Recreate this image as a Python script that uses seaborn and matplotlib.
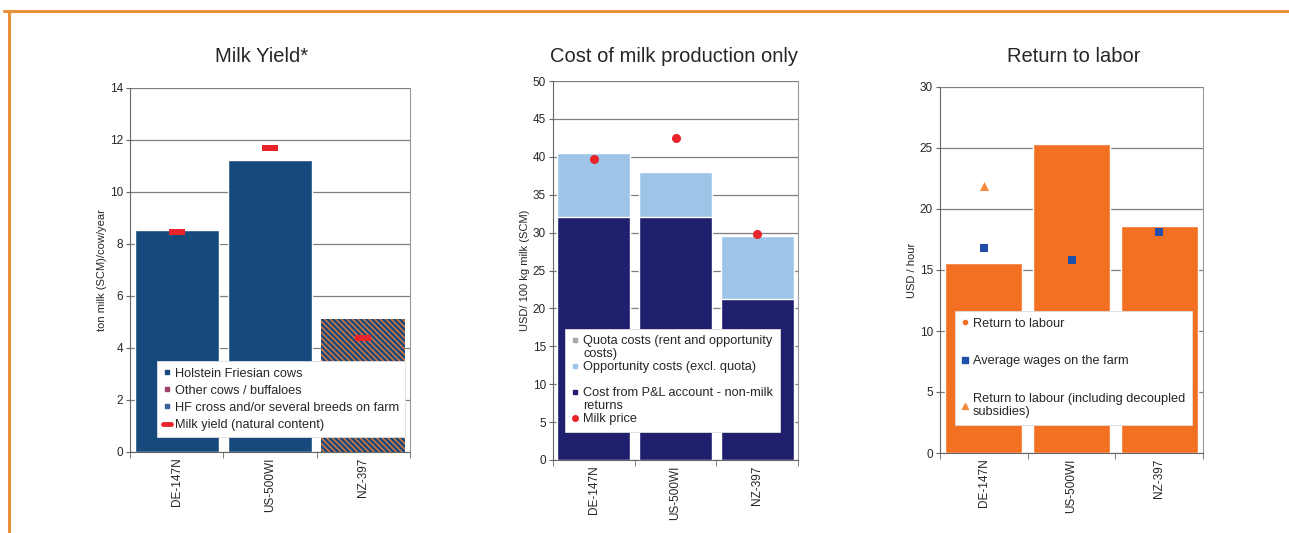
import numpy as np
import pandas as pd
import matplotlib
matplotlib.use("Agg")
import matplotlib.pyplot as plt
from matplotlib.lines import Line2D
import seaborn as sns

# data
farms = ["DE-147N", "US-500WI", "NZ-397"]

yield_ton = [8.55, 11.25, 5.1]
yield_natural = [8.45, 11.7, 4.4]

cost_pl = [32.0, 32.0, 21.3]
cost_total = [40.5, 38.0, 29.6]
milk_price = [39.7, 42.5, 29.8]

return_labour = [15.6, 25.3, 18.6]
avg_wages = [16.8, 15.8, 18.1]
return_decoupled = [21.9, np.nan, np.nan]

# colours
BLUE1 = "#174a7c"
NAVY = "#1f1f6e"
LIGHTBLUE = "#9ec5e8"
ORANGE = "#f36f21"
RED = "#e8232a"
SQ_BLUE = "#1f4fa8"
GRID = "#7f7f7f"

sns.set_style("white")
plt.rcParams["font.family"] = ["Liberation Sans", "DejaVu Sans"]
plt.rcParams["hatch.color"] = "#d9783f"
plt.rcParams["hatch.linewidth"] = 1.1

fig = plt.figure(figsize=(12.89, 5.33), dpi=100)
W, H = 1289, 533


def px_axes(left, right, top, bottom):
    return fig.add_axes([left / W, 1 - bottom / H, (right - left) / W, (bottom - top) / H])


def style_axis(ax, ymax, step, ylabel, labelpad):
    ax.set_xlim(-0.5, 2.5)
    ax.set_ylim(0, ymax)
    ax.set_yticks(np.arange(0, ymax + step / 2, step))
    ax.yaxis.grid(True, color=GRID, linewidth=0.9)
    ax.set_axisbelow(True)
    for s in ["left", "bottom"]:
        ax.spines[s].set_color("#666666")
    ax.spines["right"].set_color("#999999")
    ax.spines["top"].set_visible(False)
    ax.tick_params(axis="y", direction="out", length=3, width=0.8, color="#666666",
                   labelsize=8.5, pad=2, left=True)
    ax.tick_params(axis="x", length=0, labelsize=8.5, pad=4, labelrotation=90)
    ax.set_xticks([-0.5, 0.5, 1.5, 2.5], minor=True)
    ax.tick_params(axis="x", which="minor", direction="out", length=4, color="#666666", bottom=True)
    ax.set_xlabel("")
    ax.set_ylabel(ylabel, fontsize=8, labelpad=labelpad)


def box_legend(ax, handles, labels, anchor, spacing):
    leg = ax.legend(handles, labels, loc="lower left", bbox_to_anchor=anchor,
                    fontsize=9.2, frameon=True, fancybox=False, framealpha=1,
                    edgecolor="#dddddd", borderpad=0.5, labelspacing=spacing,
                    handlelength=0.6, handletextpad=0.3, borderaxespad=0)
    leg.get_frame().set_linewidth(0.6)
    return leg


dash = [(-1, -0.32), (1, -0.32), (1, 0.32), (-1, 0.32), (-1, -0.32)]
blank = Line2D([], [], ls="")

# --- Milk yield ---
ax1 = px_axes(130, 410, 88, 452)
df1 = pd.DataFrame({"farm": farms, "yield": yield_ton, "natural": yield_natural})
sns.barplot(data=df1, x="farm", y="yield", color=BLUE1, width=0.9, saturation=1, ax=ax1)
nz = ax1.patches[2]
nz.set_hatch("\\" * 6)
nz.set_edgecolor("#d9783f")
nz.set_linewidth(0)
sns.stripplot(data=df1, x="farm", y="natural", jitter=False, marker=dash, size=12,
              color=RED, linewidth=0, ax=ax1, zorder=4)
style_axis(ax1, 14, 2, "ton milk (SCM)/cow/year", 2)
h1 = [Line2D([], [], marker="s", ls="", color=BLUE1, markersize=3.5),
      Line2D([], [], marker="s", ls="", color="#a0406a", markersize=3.5),
      Line2D([], [], marker="s", ls="", color="#3a5f9a", markersize=3.5),
      Line2D([], [], color=RED, lw=3.5)]
l1 = ["Holstein Friesian cows", "Other cows / buffaloes",
      "HF cross and/or several breeds on farm", "Milk yield (natural content)"]
box_legend(ax1, h1, l1, (0.096, 0.04), 0.4)

# --- Cost of milk production ---
ax2 = px_axes(553, 798, 81, 460)
df2 = pd.DataFrame({"farm": farms, "total": cost_total, "pl": cost_pl, "price": milk_price})
sns.barplot(data=df2, x="farm", y="total", color=LIGHTBLUE, width=0.89, saturation=1, ax=ax2)
sns.barplot(data=df2, x="farm", y="pl", color=NAVY, width=0.89, saturation=1, ax=ax2)
sns.stripplot(data=df2, x="farm", y="price", jitter=False, marker="o", size=6.5,
              color=RED, linewidth=0, ax=ax2, zorder=4)
style_axis(ax2, 50, 5, "USD/ 100 kg milk (SCM)", 2)
h2 = [Line2D([], [], marker="s", ls="", color="#a8a8a8", markersize=3.5), blank,
      Line2D([], [], marker="s", ls="", color=LIGHTBLUE, markersize=3.5), blank,
      Line2D([], [], marker="s", ls="", color=NAVY, markersize=3.5), blank,
      Line2D([], [], marker="o", ls="", color=RED, markersize=4)]
l2 = ["Quota costs (rent and opportunity", "costs)", "Opportunity costs (excl. quota)", "",
      "Cost from P&L account - non-milk", "returns", "Milk price"]
box_legend(ax2, h2, l2, (0.05, 0.075), 0.08)

# --- Return to labour ---
ax3 = px_axes(940, 1203, 87, 453)
df3 = pd.DataFrame({"farm": farms, "ret": return_labour, "wages": avg_wages,
                    "dec": return_decoupled})
sns.barplot(data=df3, x="farm", y="ret", color=ORANGE, width=0.88, saturation=1, ax=ax3)
sns.stripplot(data=df3, x="farm", y="wages", jitter=False, marker="s", size=6,
              color=SQ_BLUE, linewidth=0, ax=ax3, zorder=4)
sns.stripplot(data=df3.dropna(), x="farm", y="dec", jitter=False, marker="^", size=6.5,
              color="#f58a3c", linewidth=0, ax=ax3, zorder=4)
style_axis(ax3, 30, 5, "USD / hour", 2)
h3 = [Line2D([], [], marker="o", ls="", color=ORANGE, markersize=3),
      Line2D([], [], marker="s", ls="", color=SQ_BLUE, markersize=5),
      Line2D([], [], marker="^", ls="", color="#f58a3c", markersize=5)]
l3 = ["Return to labour", "Average wages on the farm",
      "Return to labour (including decoupled\nsubsidies)"]
box_legend(ax3, h3, l3, (0.057, 0.077), 2.0)

# titles
fig.text(262 / W, 1 - 57 / H, "Milk Yield*", ha="center", va="center", fontsize=14.5)
fig.text(674 / W, 1 - 57 / H, "Cost of milk production only", ha="center", va="center", fontsize=14.5)
fig.text(1074 / W, 1 - 57 / H, "Return to labor", ha="center", va="center", fontsize=14.5)

# orange frame
fig.add_artist(Line2D([4 / W, 1], [1 - 11 / H, 1 - 11 / H], color="#e8913a", lw=2.2,
                      transform=fig.transFigure))
fig.add_artist(Line2D([9 / W, 9 / W], [0, 1 - 11 / H], color="#e8913a", lw=2.2,
                      transform=fig.transFigure))

fig.savefig("out.png", dpi=100)
